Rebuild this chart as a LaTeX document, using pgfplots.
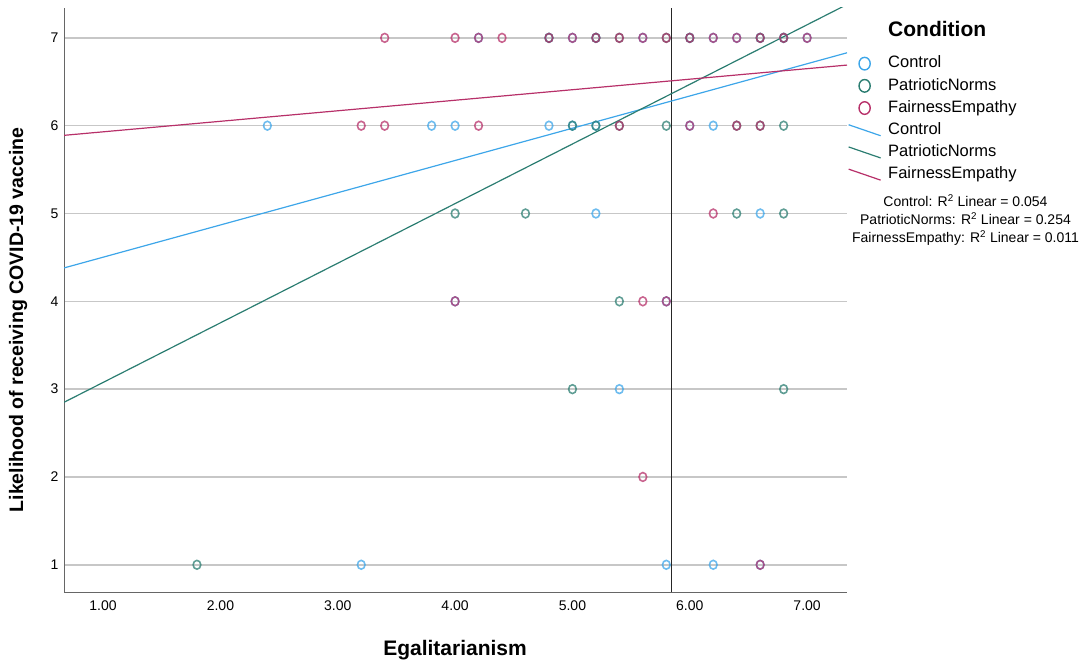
\documentclass[border=0pt]{standalone}
\usepackage{pgfplots}
\pgfplotsset{compat=1.18}
\usepackage{fontspec}
\setmainfont{Liberation Sans}
\definecolor{cC}{RGB}{61,166,233}
\definecolor{cP}{RGB}{43,125,113}
\definecolor{cF}{RGB}{183,48,105}

\pgfplotstableread{
x y
4.2 7
4.8 7
5.0 7
5.2 7
5.6 7
6.0 7
6.2 7
6.4 7
6.6 7
6.8 7
7.0 7
2.4 6
3.8 6
4.0 6
4.8 6
5.0 6
5.2 6
6.0 6
6.2 6
5.2 5
6.6 5
4.0 4
5.8 4
5.4 3
3.2 1
5.8 1
6.2 1
6.6 1
}\controldata

\pgfplotstableread{
x y
4.8 7
5.2 7
5.4 7
5.8 7
6.0 7
6.6 7
6.8 7
5.0 6
5.2 6
5.4 6
5.8 6
6.4 6
6.6 6
6.8 6
4.0 5
4.6 5
6.4 5
6.8 5
5.4 4
5.0 3
6.8 3
1.8 1
}\patrioticdata

\pgfplotstableread{
x y
3.4 7
4.0 7
4.2 7
4.4 7
4.8 7
5.0 7
5.2 7
5.4 7
5.6 7
5.8 7
6.0 7
6.2 7
6.4 7
6.6 7
6.8 7
7.0 7
3.2 6
3.4 6
4.2 6
5.4 6
6.0 6
6.4 6
6.6 6
6.2 5
4.0 4
5.6 4
5.8 4
5.6 2
6.6 1
}\fairnessdata

\begin{document}
\begin{tikzpicture}[x=1pt,y=1pt]
\useasboundingbox (0,0) rectangle (1089,667);
\begin{axis}[
  at={(64pt,75pt)}, anchor=south west,
  width=783pt, height=584pt, scale only axis,
  xmin=0.667, xmax=7.34, ymin=0.69, ymax=7.34,
  axis x line*=bottom, axis y line*=left,
  axis line style={draw=black!60, line width=0.9pt, -},
  xtick={1,2,3,4,5,6,7}, ytick={1,2,3,4,5,6,7},
  major tick length=0pt,
  ymajorgrids, grid style={draw=black!22, line width=1.6pt},
  /pgf/number format/assume math mode=true,
  xticklabel={\pgfmathprintnumber[fixed,fixed zerofill,precision=2]{\tick}},
  yticklabel={\pgfmathprintnumber[fixed,precision=0]{\tick}},
  xticklabel style={font=\fontsize{14}{14}\selectfont, yshift=-5pt},
  yticklabel style={font=\fontsize{14}{14}\selectfont, xshift=-2pt},
  xlabel={Egalitarianism},
  ylabel={Likelihood of receiving COVID-19 vaccine},
  xlabel style={font=\bfseries\fontsize{21}{21}\selectfont, at={(axis description cs:0.4994,-0.0993)}, anchor=center},
  ylabel style={font=\bfseries\fontsize{19.5}{19.5}\selectfont, at={(axis description cs:-0.0587,0.4658)}, anchor=center},
  legend style={at={(axis description cs:1.0013,0.918)}, anchor=north west,
    draw=none, fill=none, inner sep=0pt, outer sep=0pt,
    row sep=6.7pt, column sep=7pt,
    font=\fontsize{16.5}{18}\selectfont,
    nodes={inner sep=0pt, text height=12pt, text depth=3.5pt}},
  legend cell align=left,
]
\addplot[forget plot, only marks, mark=o, draw=cC, mark size=4.4pt,
  mark options={line width=1.6pt, draw opacity=0.75, xscale=0.87}] table {\controldata};
\addplot[forget plot, only marks, mark=o, draw=cP, mark size=4.4pt,
  mark options={line width=1.6pt, draw opacity=0.75, xscale=0.87}] table {\patrioticdata};
\addplot[forget plot, only marks, mark=o, draw=cF, mark size=4.4pt,
  mark options={line width=1.6pt, draw opacity=0.75, xscale=0.87}] table {\fairnessdata};

\addplot[forget plot, black!85, line width=0.9pt] coordinates {(5.84,0.69) (5.84,7.34)};

\addplot[forget plot, cC, line width=1.2pt] coordinates {(0.667,4.38) (7.34,6.83)};
\addplot[forget plot, cP, line width=1.2pt] coordinates {(0.667,2.85) (7.34,7.38)};
\addplot[forget plot, cF, line width=1.2pt] coordinates {(0.667,5.89) (7.34,6.69)};

\addlegendimage{draw=cC, legend image code/.code={\path[draw=none,fill=none] (0pt,-7pt) rectangle (32pt,7pt); \draw[line width=1.4pt] (16pt,0pt) ellipse [x radius=5.6pt, y radius=6.3pt];}}
\addlegendentry{Control}
\addlegendimage{draw=cP, legend image code/.code={\path[draw=none,fill=none] (0pt,-7pt) rectangle (32pt,7pt); \draw[line width=1.4pt] (16pt,0pt) ellipse [x radius=5.6pt, y radius=6.3pt];}}
\addlegendentry{PatrioticNorms}
\addlegendimage{draw=cF, legend image code/.code={\path[draw=none,fill=none] (0pt,-7pt) rectangle (32pt,7pt); \draw[line width=1.4pt] (16pt,0pt) ellipse [x radius=5.6pt, y radius=6.3pt];}}
\addlegendentry{FairnessEmpathy}
\addlegendimage{draw=cC, line width=1.2pt, legend image code/.code={\path[draw=none,fill=none] (0pt,-7pt) rectangle (32pt,7pt); \draw (0pt,5.5pt) -- (32pt,-5.5pt);}}
\addlegendentry{Control}
\addlegendimage{draw=cP, line width=1.2pt, legend image code/.code={\path[draw=none,fill=none] (0pt,-7pt) rectangle (32pt,7pt); \draw (0pt,5.5pt) -- (32pt,-5.5pt);}}
\addlegendentry{PatrioticNorms}
\addlegendimage{draw=cF, line width=1.2pt, legend image code/.code={\path[draw=none,fill=none] (0pt,-7pt) rectangle (32pt,7pt); \draw (0pt,5.5pt) -- (32pt,-5.5pt);}}
\addlegendentry{FairnessEmpathy}
\end{axis}
\node[anchor=base west, font=\bfseries\fontsize{21}{21}\selectfont, inner sep=0pt] at (888,630) {Condition};
\node[anchor=base, font=\fontsize{14}{14}\selectfont, inner sep=0pt] at (965.5,460) {Control: R\textsuperscript{2} Linear = 0.054};
\node[anchor=base, font=\fontsize{14}{14}\selectfont, inner sep=0pt] at (965.5,442) {PatrioticNorms: R\textsuperscript{2} Linear = 0.254};
\node[anchor=base, font=\fontsize{14}{14}\selectfont, inner sep=0pt] at (965.5,424) {FairnessEmpathy: R\textsuperscript{2} Linear = 0.011};
\end{tikzpicture}
\end{document}
